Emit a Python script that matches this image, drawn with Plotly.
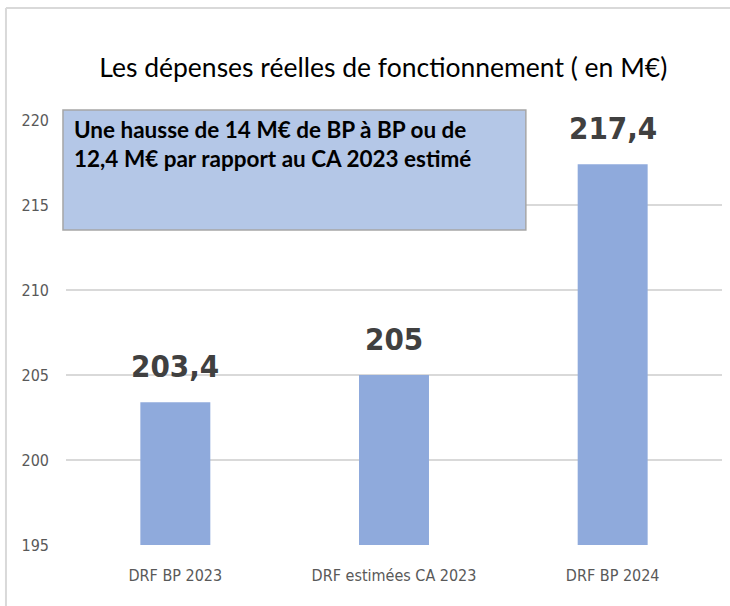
import plotly.graph_objects as go

categories = ["DRF BP 2023", "DRF estimées CA 2023", "DRF BP 2024"]
values = [203.4, 205, 217.4]
value_labels = ["203,4", "205", "217,4"]
y_ticks = [195, 200, 205, 210, 215, 220]

title_text = "Les dépenses réelles de fonctionnement ( en M€)"
box_text = "Une hausse de 14 M€ de BP à BP ou de<br>12,4 M€ par rapport au CA 2023 estimé"

COND = "DejaVu Sans Condensed, DejaVu Sans, sans-serif"

fig = go.Figure()
fig.add_trace(go.Bar(
    x=categories, y=values, width=0.32,
    marker=dict(color="#8FAADC", line=dict(width=0)),
    hoverinfo="x+y",
))

for c, v, t in zip(categories, values, value_labels):
    fig.add_annotation(
        x=c, y=v, text="<b>" + t + "</b>", showarrow=False, yanchor="bottom", yshift=16,
        font=dict(family=COND, size=31, color="#404040"),
    )

# frame lines
fig.add_shape(type="line", xref="paper", yref="paper", x0=-0.0915, x1=-0.0915, y0=-0.2, y1=1.2635,
              line=dict(color="#D9D9D9", width=2))
fig.add_shape(type="line", xref="paper", yref="paper", x0=-0.0915, x1=1.02, y0=1.2635, y1=1.2635,
              line=dict(color="#D9D9D9", width=2))

# text box
fig.add_shape(type="rect", xref="paper", yref="paper", x0=-0.0046, x1=0.701, y0=0.741, y1=1.0235,
              fillcolor="#B4C7E7", line=dict(color="#A6A6A6", width=1.5), layer="above")
fig.add_annotation(
    xref="paper", yref="paper", x=(72 - 66) / 656, y=(545 - 144) / 425,
    xanchor="left", yanchor="middle",
    text="<b>" + box_text + "</b>", align="left", showarrow=False,
    font=dict(family="Lato, sans-serif", size=22.5, color="#000000"),
)

fig.update_layout(
    width=730, height=606,
    margin=dict(l=66, r=8, t=120, b=61),
    paper_bgcolor="white", plot_bgcolor="white",
    showlegend=False,
    title=dict(text=title_text, x=0.525, xanchor="center", y=1 - 68 / 606, yanchor="middle",
               font=dict(family="Lato, sans-serif", size=26.5, color="#000000")),
    xaxis=dict(
        showgrid=False, showline=False, ticks="",
        tickfont=dict(family=COND, size=16, color="#595959"),
        ticklabelstandoff=19,
    ),
    yaxis=dict(
        range=[195, 220], tickvals=y_ticks, ticktext=[str(t) for t in y_ticks],
        showgrid=True, gridcolor="#D9D9D9", gridwidth=1.5,
        zeroline=False, showline=False, ticks="",
        tickfont=dict(family=COND, size=16, color="#595959"),
        ticklabelstandoff=16,
    ),
)

fig.write_html("out.html", config={"displayModeBar": False},
               post_script="document.body.style.margin='0';")
